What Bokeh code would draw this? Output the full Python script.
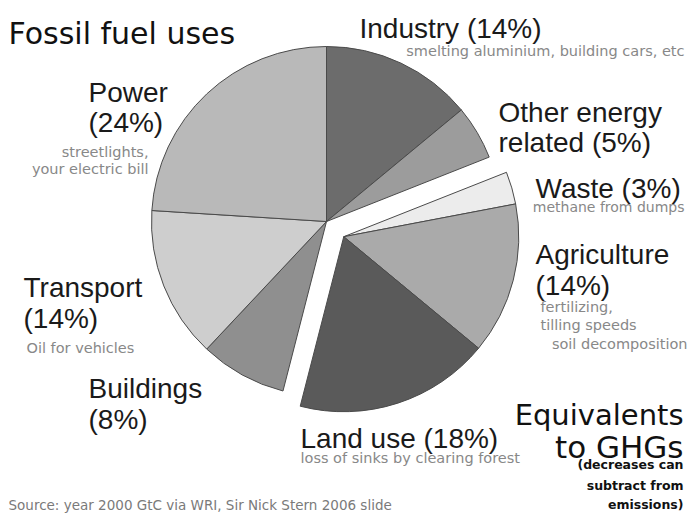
import math
from bokeh.plotting import figure
from bokeh.models import ColumnDataSource, Range1d, Label
from bokeh.embed import file_html
from bokeh.resources import INLINE

# ---- data ----
categories = ["Industry", "Other energy related", "Waste", "Agriculture",
              "Land use", "Buildings", "Transport", "Power"]
shares = [14, 5, 3, 14, 18, 8, 14, 24]
groups = ["fossil", "fossil", "equiv", "equiv", "equiv", "fossil", "fossil", "fossil"]
colors = ["#6c6c6c", "#9c9c9c", "#ececec", "#aaaaaa", "#5a5a5a", "#8f8f8f", "#cecece", "#b9b9b9"]

W, H = 690, 513
p = figure(width=W, height=H, output_backend="svg", toolbar_location=None,
           x_range=Range1d(0, W), y_range=Range1d(0, H), min_border=0)
p.axis.visible = False
p.grid.visible = False
p.outline_line_color = None
p.background_fill_color = "#ffffff"
p.border_fill_color = "#ffffff"

def Y(ys):
    return H - ys

cx, cy = 326, Y(221)
R = 175
explode = 23

total = sum(shares)
starts, ends = [], []
cum = 0
for s in shares:
    starts.append(90 - cum / total * 360)
    cum += s
    ends.append(90 - cum / total * 360)

eq_idx = [i for i, g in enumerate(groups) if g == "equiv"]
mid = math.radians((starts[eq_idx[0]] + ends[eq_idx[-1]]) / 2)
ox, oy = explode * math.cos(mid), explode * math.sin(mid)

xs = [cx + (ox if g == "equiv" else 0) for g in groups]
ys = [cy + (oy if g == "equiv" else 0) for g in groups]

src = ColumnDataSource(dict(x=xs, y=ys, start=starts, end=ends, color=colors, name=categories))
p.wedge(x="x", y="y", radius=R, start_angle="start", end_angle="end",
        start_angle_units="deg", end_angle_units="deg", direction="clock",
        fill_color="color", line_color="#4a4a4a", line_width=1, source=src)

# ---- texts ----
LBL = dict(text_font="Liberation Sans", text_font_size="28px", text_color="#1a1a1a")
SUB = dict(text_font="DejaVu Sans", text_font_size="14.5px", text_color="#888888")
COM = dict(text_font="DejaVu Sans", text_color="#111111")
SMB = dict(text_font="DejaVu Sans", text_font_size="12.5px", text_font_style="bold",
           text_color="#111111")

def add(text, x, ys, align="left", **kw):
    p.add_layout(Label(x=x, y=Y(ys), text=text, text_align=align,
                       text_baseline="alphabetic", **kw))

add("Fossil fuel uses", 8, 33, text_font_size="30px", **COM)

add("Industry (14%)", 359, 28, **LBL)
add("smelting aluminium, building cars, etc", 684, 50, align="right", **SUB)

add("Other energy", 498, 112, **LBL)
add("related (5%)", 498, 142, **LBL)

add("Waste (3%)", 535, 188, **LBL)
add("methane from dumps", 684, 206, align="right", text_font="DejaVu Sans",
    text_font_size="14px", text_color="#888888")

add("Agriculture", 535, 254, **LBL)
add("(14%)", 535, 285, **LBL)
add("fertilizing,", 540, 306, **SUB)
add("tilling speeds", 540, 324, **SUB)
add("soil decomposition", 687, 343, align="right", **SUB)

add("Power", 88, 92, **LBL)
add("(24%)", 88, 122, **LBL)
add("streetlights,", 148, 151, align="right", **SUB)
add("your electric bill", 148, 168, align="right", **SUB)

add("Transport", 23, 287, **LBL)
add("(14%)", 23, 318, **LBL)
add("Oil for vehicles", 26, 347, **SUB)

add("Buildings", 88, 388, **LBL)
add("(8%)", 88, 419, **LBL)

add("Land use (18%)", 300, 438, **LBL)
add("loss of sinks by clearing forest", 300, 457, **SUB)

add("Equivalents", 683, 414, align="right", text_font_size="29px", **COM)
add("to GHGs", 683, 446, align="right", text_font_size="31px", **COM)
add("(decreases can", 683, 464, align="right", **SMB)
add("subtract from", 683, 485, align="right", **SMB)
add("emissions)", 683, 504, align="right", **SMB)

add("Source: year 2000 GtC via WRI, Sir Nick Stern 2006 slide", 8, 504,
    text_font="DejaVu Sans", text_font_size="13.5px", text_color="#7a7a7a")

open("out.html", "w").write(file_html(p, INLINE))
